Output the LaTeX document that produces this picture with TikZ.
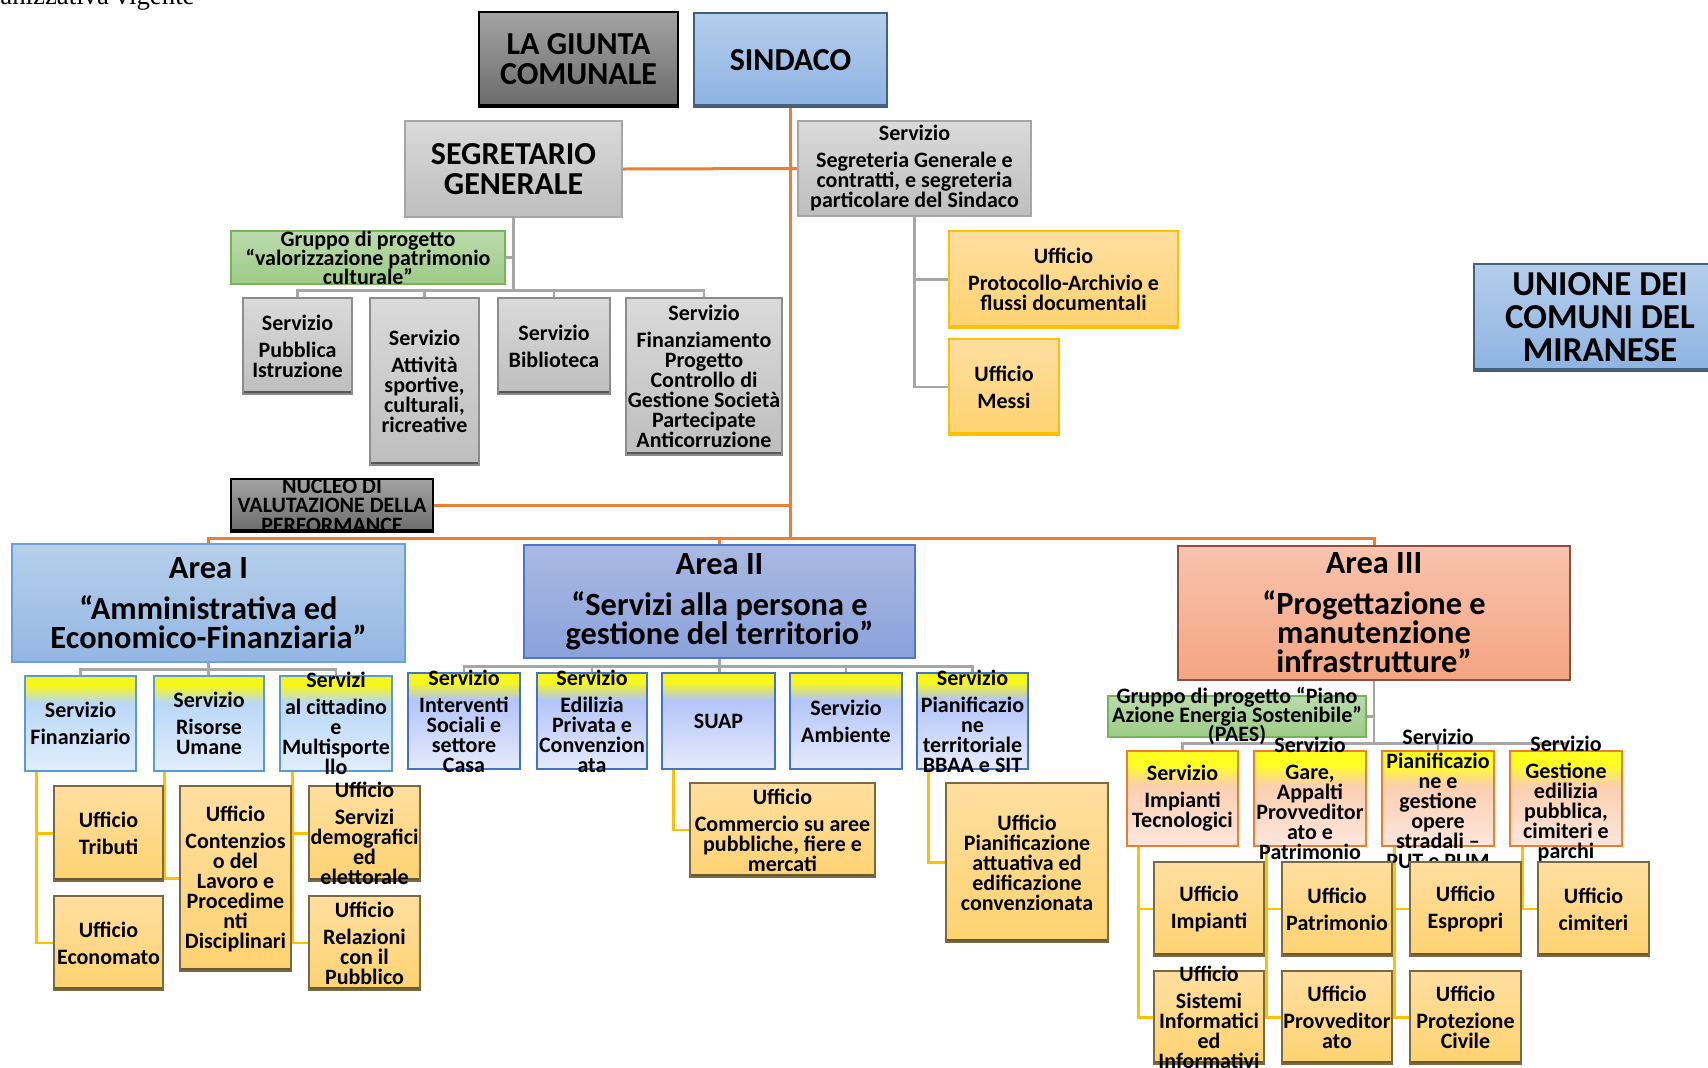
\documentclass[tikz,border=0pt]{standalone}
\usepackage{fontspec}
\setmainfont{Carlito}
\newfontfamily\docserif{Liberation Serif}
\usetikzlibrary{backgrounds}

\definecolor{orgline}{HTML}{ED7D31}
\definecolor{grayline}{HTML}{A6A6A6}
\definecolor{yelline}{HTML}{FFC000}
\definecolor{dkTop}{HTML}{A3A3A3}
\definecolor{dkBot}{HTML}{6B6B6B}
\definecolor{blTop}{HTML}{B4CEEC}
\definecolor{blBot}{HTML}{8DB3E2}
\definecolor{blBorder}{HTML}{44607F}
\definecolor{grTop}{HTML}{DADADA}
\definecolor{grBot}{HTML}{BEBEBE}
\definecolor{grBorder}{HTML}{8C8C8C}
\definecolor{grEdge}{HTML}{575757}
\definecolor{gnTop}{HTML}{BBDAAC}
\definecolor{gnBot}{HTML}{9CCC86}
\definecolor{gnBorder}{HTML}{78B35C}
\definecolor{ufTop}{HTML}{FFDFA0}
\definecolor{ufBot}{HTML}{FDD270}
\definecolor{ufBorder}{HTML}{7A6A44}
\definecolor{ufEdge}{HTML}{6B5A30}
\definecolor{aOneTop}{HTML}{B6CFEC}
\definecolor{aOneBot}{HTML}{93B7E3}
\definecolor{aOneBorder}{HTML}{6CA0DC}
\definecolor{aTwoTop}{HTML}{AAB9E3}
\definecolor{aTwoBot}{HTML}{8AA2DA}
\definecolor{aTwoBorder}{HTML}{4A77CF}
\definecolor{aThreeTop}{HTML}{F8C3AD}
\definecolor{aThreeBot}{HTML}{F4A582}
\definecolor{aThreeBorder}{HTML}{8C5040}
\definecolor{sYel}{HTML}{F6F61C}
\definecolor{sOneBlue}{HTML}{B9D8F7}
\definecolor{sOnePale}{HTML}{E2EEFC}
\definecolor{sOneBorder}{HTML}{5B9BD5}
\definecolor{sTwoBlue}{HTML}{B3C5F8}
\definecolor{sTwoPale}{HTML}{E6EBFC}
\definecolor{sTwoBorder}{HTML}{4472C4}
\definecolor{sThreeYel}{HTML}{FFFF22}
\definecolor{sThreeMid}{HTML}{FBCFAE}
\definecolor{sThreePale}{HTML}{FDE6DE}
\definecolor{sThreeBorder}{HTML}{ED7D31}

\pgfdeclareverticalshading{srvone}{100bp}{color(0bp)=(sOnePale); color(25bp)=(sOnePale); color(61bp)=(sOneBlue); color(70bp)=(sYel); color(75bp)=(sYel); color(100bp)=(sYel)}
\pgfdeclareverticalshading{srvtwo}{100bp}{color(0bp)=(sTwoPale); color(25bp)=(sTwoPale); color(61bp)=(sTwoBlue); color(70bp)=(sYel); color(75bp)=(sYel); color(100bp)=(sYel)}
\pgfdeclareverticalshading{srvthree}{100bp}{color(0bp)=(sThreePale); color(25bp)=(sThreePale); color(57bp)=(sThreeMid); color(68bp)=(sThreeYel); color(75bp)=(sThreeYel); color(100bp)=(sThreeYel)}

\tikzset{
	sz/.style 2 args={minimum width=#1*0.5pt, minimum height=#2*0.5pt},
	box/.style={draw, inner sep=0pt, line width=0.8pt},
	bottomedge/.style={path picture={\fill[#1] ([yshift=1.6pt]path picture bounding box.south west) rectangle (path picture bounding box.south east);}},
	darkbox/.style={box, draw=black, top color=dkTop, bottom color=dkBot, bottomedge=black},
	bluebox/.style={box, draw=blBorder, top color=blTop, bottom color=blBot, bottomedge=blBorder},
	segbox/.style={box, draw=grayline, top color=grTop, bottom color=grBot},
	graybox/.style={box, draw=grBorder, top color=grTop, bottom color=grBot, bottomedge=grEdge},
	greenbox/.style={box, draw=gnBorder, top color=gnTop, bottom color=gnBot},
	uffbox/.style={box, draw=ufBorder, top color=ufTop, bottom color=ufBot, bottomedge=ufEdge},
	protbox/.style={box, draw=yelline, top color=ufTop, bottom color=ufBot, bottomedge=yelline},
	areaone/.style={box, draw=aOneBorder, top color=aOneTop, bottom color=aOneBot},
	areatwo/.style={box, draw=aTwoBorder, top color=aTwoTop, bottom color=aTwoBot},
	areathree/.style={box, draw=aThreeBorder, top color=aThreeTop, bottom color=aThreeBot},
	srvonebox/.style={box, draw=sOneBorder, shade, shading=srvone},
	srvtwobox/.style={box, draw=sTwoBorder, shade, shading=srvtwo},
	srvthreebox/.style={box, draw=sThreeBorder, shade, shading=srvthree},
	tbig/.style={align=center, inner sep=0pt, font=\bfseries\fontsize{16}{15}\selectfont},
	tunione/.style={align=center, inner sep=0pt, font=\bfseries\fontsize{17.5}{16.5}\selectfont},
	tarea/.style={align=center, inner sep=0pt, font=\bfseries\fontsize{16.2}{14.5}\selectfont},
	tsm/.style={align=center, inner sep=0pt, font=\bfseries\fontsize{11}{10}\selectfont},
	tgrp/.style={align=center, inner sep=0pt, font=\bfseries\fontsize{11}{9.5}\selectfont},
	tnuc/.style={align=center, inner sep=0pt, font=\bfseries\fontsize{11}{9.75}\selectfont},
	oline/.style={draw=orgline, line width=1.5pt},
	gline/.style={draw=grayline, line width=1.4pt},
	yline/.style={draw=yelline, line width=1.4pt}
}

\begin{document}
\lineskiplimit=-20pt
\begin{tikzpicture}[x=0.5pt, y=-0.5pt]
	\useasboundingbox (0,0) rectangle (1708,1067);
	
	\node[anchor=base west, inner sep=0pt, font=\docserif\fontsize{13.4}{16}\selectfont] (intro) at (0,4) {anizzativa vigente};
	
	% vertice
	\node[darkbox, sz={199}{95}] (giunta) at (578.5,59.5) {};
	\node[tbig] (tgiunta) at (giunta) {LA GIUNTA\\COMUNALE};
	\node[bluebox, sz={193}{94}] (sindaco) at (790.5,60) {};
	\node[tbig] (tsindaco) at (sindaco) {SINDACO};
	\node[segbox, sz={217}{96}] (seg) at (513.5,169) {};
	\node[tbig] (tseg) at (seg) {SEGRETARIO\\GENERALE};
	\node[segbox, sz={233}{95}] (segr) at (914.5,168.5) {};
	\node[tsm] (tsegr) at (segr) {Servizio\\[3.5pt]Segreteria Generale e\\contratti, e  segreteria\\particolare del Sindaco};
	\node[protbox, sz={229}{97}] (prot) at (1063.5,279.5) {};
	\node[tsm] (tprot) at (prot) {Ufficio\\[3.5pt]Protocollo-Archivio e\\flussi documentali};
	\node[protbox, sz={110}{96}] (messi) at (1004,387) {};
	\node[tsm] (tmessi) at (messi) {Ufficio\\[3.5pt]Messi};
	\node[bluebox, sz={252}{107}] (unione) at (1600,317.5) {};
	\node[tunione] (tunione) at (unione) {UNIONE DEI\\COMUNI DEL\\MIRANESE};
	
	% segretario
	\node[greenbox, sz={274}{53}] (grpval) at (368,257.5) {};
	\node[tgrp] (tgrpval) at (grpval) {Gruppo di progetto\\“valorizzazione patrimonio\\culturale”};
	\node[graybox, sz={109}{96}] (pubb) at (297.5,346) {};
	\node[tsm] (tpubb) at (pubb) {Servizio\\[3.5pt]Pubblica\\Istruzione};
	\node[graybox, sz={109}{167}] (attiv) at (424.5,381.5) {};
	\node[tsm] (tattiv) at (attiv) {Servizio\\[3.5pt]Attività\\sportive,\\culturali,\\ricreative};
	\node[graybox, sz={112}{96}] (bibl) at (554,346) {};
	\node[tsm] (tbibl) at (bibl) {Servizio\\[3.5pt]Biblioteca};
	\node[graybox, sz={156}{157}] (finanz) at (704,376.5) {};
	\node[tsm] (tfinanz) at (finanz) {Servizio\\[3.5pt]Finanziamento\\Progetto\\Controllo di\\Gestione Società\\Partecipate\\Anticorruzione};
	\node[darkbox, sz={202}{53}] (nucleo) at (332,505.5) {};
	\node[tnuc] (tnucleo) at (nucleo) {NUCLEO DI\\VALUTAZIONE DELLA\\PERFORMANCE};
	
	% aree
	\node[areaone, sz={393}{118}] (areaI) at (208.5,603) {};
	\node[tarea] (tareaI) at (areaI) {Area I\\[6pt]“Amministrativa ed\\Economico-Finanziaria”};
	\node[areatwo, sz={391}{113}] (areaII) at (719.5,601.5) {};
	\node[tarea] (tareaII) at (areaII) {Area II\\[6pt]“Servizi alla persona e\\gestione del territorio”};
	\node[areathree, sz={392}{134}] (areaIII) at (1374,613) {};
	\node[tarea] (tareaIII) at (areaIII) {Area III\\[6pt]“Progettazione e\\manutenzione\\infrastrutture”};
	
	% area I
	\node[srvonebox, sz={111}{95}] (fin) at (80.5,723.5) {};
	\node[tsm] (tfin) at (fin) {Servizio\\[3.5pt]Finanziario};
	\node[srvonebox, sz={110}{95}] (ris) at (209,723.5) {};
	\node[tsm] (tris) at (ris) {Servizio\\[3.5pt]Risorse\\Umane};
	\node[srvonebox, sz={112}{95}] (citt) at (336,723.5) {};
	\node[tsm] (tcitt) at (citt) {Servizi\\[3.5pt]al cittadino\\e\\Multisporte\\llo};
	\node[uffbox, sz={109}{95}] (trib) at (108.5,833.5) {};
	\node[tsm] (ttrib) at (trib) {Ufficio\\[3.5pt]Tributi};
	\node[uffbox, sz={109}{94}] (econ) at (108.5,943) {};
	\node[tsm] (tecon) at (econ) {Ufficio\\[3.5pt]Economato};
	\node[uffbox, sz={111}{185}] (cont) at (235.5,878.5) {};
	\node[tsm] (tcont) at (cont) {Ufficio\\[3.5pt]Contenzios\\o del\\Lavoro e\\Procedime\\nti\\Disciplinari};
	\node[uffbox, sz={111}{95}] (demo) at (364.5,833.5) {};
	\node[tsm] (tdemo) at (demo) {Ufficio\\[3.5pt]Servizi\\demografici\\ed\\elettorale};
	\node[uffbox, sz={111}{94}] (urp) at (364.5,943) {};
	\node[tsm] (turp) at (urp) {Ufficio\\[3.5pt]Relazioni\\con il\\Pubblico};
	
	% area II
	\node[srvtwobox, sz={112}{96}] (inter) at (464,721) {};
	\node[tsm] (tinter) at (inter) {Servizio\\[3.5pt]Interventi\\Sociali e\\settore\\Casa};
	\node[srvtwobox, sz={110}{96}] (edil) at (592,721) {};
	\node[tsm] (tedil) at (edil) {Servizio\\[3.5pt]Edilizia\\Privata e\\Convenzion\\ata};
	\node[srvtwobox, sz={113}{96}] (suap) at (718.5,721) {};
	\node[tsm] (tsuap) at (suap) {SUAP};
	\node[srvtwobox, sz={112}{96}] (amb) at (846,721) {};
	\node[tsm] (tamb) at (amb) {Servizio\\[3.5pt]Ambiente};
	\node[srvtwobox, sz={111}{96}] (pterr) at (972.5,721) {};
	\node[tsm] (tpterr) at (pterr) {Servizio\\[3.5pt]Pianificazio\\ne\\territoriale\\BBAA e SIT};
	\node[uffbox, sz={185}{94}] (comm) at (782.5,830) {};
	\node[tsm] (tcomm) at (comm) {Ufficio\\[3.5pt]Commercio su aree\\pubbliche, fiere e\\mercati};
	\node[uffbox, sz={162}{159}] (patt) at (1027,862.5) {};
	\node[tsm] (tpatt) at (patt) {Ufficio\\Pianificazione\\attuativa ed\\edificazione\\convenzionata};
	
	% area III
	\node[greenbox, sz={258}{41}] (grppaes) at (1237,716.5) {};
	\node[tgrp] (tgrppaes) at (grppaes) {Gruppo di progetto “Piano\\Azione Energia Sostenibile”\\(PAES)};
	\node[srvthreebox, sz={111}{95}] (impt) at (1182.5,798.5) {};
	\node[tsm] (timpt) at (impt) {Servizio\\[3.5pt]Impianti\\Tecnologici};
	\node[srvthreebox, sz={112}{95}] (gare) at (1310,798.5) {};
	\node[tsm] (tgare) at (gare) {Servizio\\[3.5pt]Gare,\\Appalti\\Provveditor\\ato e\\Patrimonio};
	\node[srvthreebox, sz={112}{95}] (pstr) at (1438,798.5) {};
	\node[tsm] (tpstr) at (pstr) {Servizio\\[2pt]Pianificazio\\ne e\\gestione\\opere\\stradali –\\PUT e PUM};
	\node[srvthreebox, sz={112}{95}] (gest) at (1566,798.5) {};
	\node[tsm] (tgest) at (gest) {Servizio\\[3.5pt]Gestione\\edilizia\\pubblica,\\cimiteri e\\parchi};
	\node[uffbox, sz={110}{94}] (uimp) at (1209,909) {};
	\node[tsm] (tuimp) at (uimp) {Ufficio\\[3.5pt]Impianti};
	\node[uffbox, sz={110}{93}] (usis) at (1209,1017.5) {};
	\node[tsm] (tusis) at (usis) {Ufficio\\[3.5pt]Sistemi\\Informatici\\ed\\Informativi};
	\node[uffbox, sz={110}{94}] (upat) at (1337,909) {};
	\node[tsm] (tupat) at (upat) {Ufficio\\[3.5pt]Patrimonio};
	\node[uffbox, sz={110}{93}] (uprov) at (1337,1017.5) {};
	\node[tsm] (tuprov) at (uprov) {Ufficio\\[3.5pt]Provveditor\\ato};
	\node[uffbox, sz={111}{94}] (uesp) at (1465.5,909) {};
	\node[tsm] (tuesp) at (uesp) {Ufficio\\[3.5pt]Espropri};
	\node[uffbox, sz={111}{93}] (upc) at (1465.5,1017.5) {};
	\node[tsm] (tupc) at (upc) {Ufficio\\[3.5pt]Protezione\\Civile};
	\node[uffbox, sz={111}{94}] (ucim) at (1593.5,909) {};
	\node[tsm] (tucim) at (ucim) {Ufficio\\[3.5pt]cimiteri};
	
	\begin{scope}[on background layer]
		% linee arancio
		\coordinate (obus) at (sindaco.south |- 0,538);
		\draw[oline] (sindaco.south) -- (obus);
		\draw[oline] (areaI.north) |- (obus) -| (areaIII.north);
		\draw[oline] (areaII.north) -- (areaII.north |- obus);
		\draw[oline] (seg.east) -- (segr.west);
		\draw[oline] (nucleo.east) -- (nucleo.east -| obus);
		% linee grigie
		\draw[gline] (seg.south) -- (seg.south |- 0,291);
		\draw[gline] (grpval.east) -- (grpval.east -| seg.south);
		\draw[gline] (pubb.north) -- ++(0,-7) -| (finanz.north);
		\draw[gline] (attiv.north) -- ++(0,-7);
		\draw[gline] (bibl.north) -- ++(0,-7);
		\draw[gline] (segr.south) |- (messi.west);
		\draw[gline] (segr.south |- prot.west) -- (prot.west);
		\draw[gline] (fin.north) -- ++(0,-6) -| (citt.north);
		\draw[gline] (areaI.south) -- (areaI.south |- ris.north);
		\draw[gline] (inter.north) -- ++(0,-6) -| (pterr.north);
		\draw[gline] (edil.north) -- ++(0,-6);
		\draw[gline] (amb.north) -- ++(0,-6);
		\draw[gline] (areaII.south) -- (areaII.south |- suap.north);
		\draw[gline] (areaIII.south) -- (areaIII.south |- 0,744);
		\draw[gline] (grppaes.east) -- (grppaes.east -| areaIII.south);
		\draw[gline] (impt.north) -- ++(0,-7) -| (gest.north);
		\draw[gline] (gare.north) -- ++(0,-7);
		\draw[gline] (pstr.north) -- ++(0,-7);
		% linee gialle
		\coordinate (finy) at ([xshift=6pt]fin.south west);
		\coordinate (risy) at ([xshift=5.5pt]ris.south west);
		\coordinate (citty) at ([xshift=6.5pt]citt.south west);
		\coordinate (suapy) at ([xshift=6pt]suap.south west);
		\coordinate (pterry) at ([xshift=6pt]pterr.south west);
		\coordinate (impty) at ([xshift=6pt]impt.south west);
		\coordinate (garey) at ([xshift=6.5pt]gare.south west);
		\coordinate (pstry) at ([xshift=6.5pt]pstr.south west);
		\coordinate (gesty) at ([xshift=6.5pt]gest.south west);
		\draw[yline] (finy) |- (econ.west);
		\draw[yline] (finy |- trib.west) -- (trib.west);
		\draw[yline] (risy) |- (cont.west);
		\draw[yline] (citty) |- (urp.west);
		\draw[yline] (citty |- demo.west) -- (demo.west);
		\draw[yline] (suapy) |- (comm.west);
		\draw[yline] (pterry) |- (patt.west);
		\draw[yline] (impty) |- (usis.west);
		\draw[yline] (impty |- uimp.west) -- (uimp.west);
		\draw[yline] (garey) |- (uprov.west);
		\draw[yline] (garey |- upat.west) -- (upat.west);
		\draw[yline] (pstry) |- (upc.west);
		\draw[yline] (pstry |- uesp.west) -- (uesp.west);
		\draw[yline] (gesty) |- (ucim.west);
	\end{scope}
\end{tikzpicture}
\end{document}
